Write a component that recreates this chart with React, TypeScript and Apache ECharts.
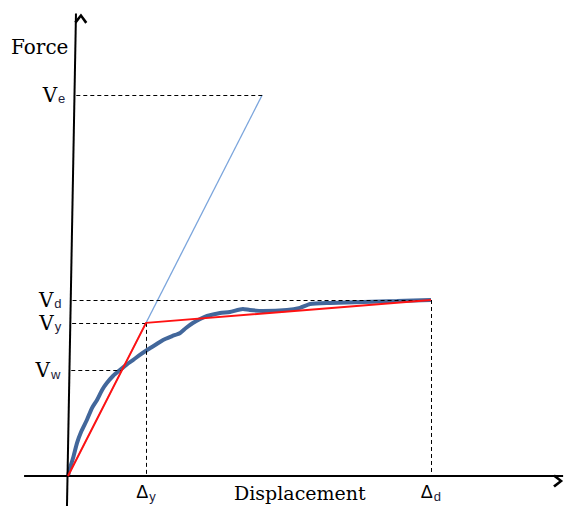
import React, { useEffect, useRef } from "react";
import * as echarts from "echarts";

// Axis-range (data units): displacement 0..100 = Δd, force 0..100 = Vd
const xRange = [-18.73, 136.92];
const yRange = [-17.05, 270.45];

// Characteristic values
const deltaY = 21.5;
const deltaD = 100;
const Vw = 60;
const Vy = 87;
const Vd = 100;
const Ve = 216.5;
const elasticEndX = 53.5;
const VwCrossX = 14.8;

// Axis geometry (data units)
const xAxisLine = [[-12.1, 0], [136.4, 0]];
const yAxisLine = [[-0.28, -17.05], [2.2, 262.8]];

// Measured force-displacement curve
const curveX = [0, 0.55, 1.4, 2.5, 3.6, 5.2, 6.6, 8.0, 9.4, 10.7, 12.4, 14.3, 16.3, 17.9, 19.8, 21.8, 24, 26.2, 28.7, 30.9, 32.5, 34.4, 36.4, 38.3, 41.9, 44.6, 48.2, 50.1, 53.7, 60.3, 63.9, 66.7, 72.2, 81.3, 90.6, 100];
const curveY = [0, 4.5, 10.2, 18.8, 25, 31.8, 38.6, 43.2, 48.9, 52.8, 56.8, 60.2, 63.6, 65.9, 68.8, 71.6, 74.4, 77.3, 79.5, 81.3, 84.1, 86.9, 89.2, 90.9, 92.6, 93.2, 94.9, 94.3, 93.8, 94.3, 95.5, 97.7, 98.3, 98.9, 99.4, 100];

const SERIF = "DejaVu Serif";
const SANS = "Liberation Sans";

function axisXAt(y: number) {
  const [[x0, y0], [x1, y1]] = yAxisLine;
  return x0 + ((y - y0) / (y1 - y0)) * (x1 - x0) + 0.5;
}

const chevron = "path://M0,8 L5,0 L10,8 L8.4,9.7 L5,3.9 L1.6,9.7 Z";

const vRich = {
  v: { fontFamily: SERIF, fontSize: 20, color: "#000" },
  s: { fontFamily: SANS, fontSize: 13, color: "#1c1c3a", padding: [8, 0, 0, 1] },
};
const dRich = {
  v: { fontFamily: SANS, fontSize: 18, color: "#000" },
  s: { fontFamily: SANS, fontSize: 13, color: "#1c1c3a", padding: [8, 0, 0, 1] },
};

export default function App() {
  const ref = useRef<HTMLDivElement>(null);
  useEffect(() => {
    if (!ref.current) return;
    const chart = echarts.init(ref.current, undefined, { renderer: "svg" });
    const dash = { color: "#000", width: 1, type: [4, 3] as any };
    const hLine = (y: number, x2: number, sub: string) => [
      {
        coord: [axisXAt(y), y],
        lineStyle: dash,
        label: { show: true, position: "start", distance: 11, formatter: `{v|V}{s|${sub}}`, rich: vRich },
      },
      { coord: [x2, y] },
    ];
    const vLine = (x: number, y: number, sub: string) => [
      {
        coord: [x, y],
        lineStyle: dash,
        label: { show: true, position: "end", distance: 6, formatter: `{v|Δ}{s|${sub}}`, rich: dRich },
      },
      { coord: [x, 0] },
    ];
    chart.setOption({
      animation: false,
      grid: { left: 0, right: 0, top: 0, bottom: 0 },
      xAxis: { type: "value", min: xRange[0], max: xRange[1], show: false },
      yAxis: { type: "value", min: yRange[0], max: yRange[1], show: false },
      graphic: [
        { type: "text", left: 11, top: 37, style: { text: "Force", font: `20px '${SERIF}'`, fill: "#000" } },
        { type: "text", left: 234, top: 483, style: { text: "Displacement", font: `19px '${SERIF}'`, fill: "#000" } },
      ],
      series: [
        {
          type: "line",
          name: "axes",
          data: [],
          silent: true,
          markLine: {
            silent: true,
            animation: false,
            symbol: ["none", chevron],
            symbolSize: [13, 10],
            symbolOffset: [0, 5],
            lineStyle: { color: "#000", width: 2, type: "solid" },
            label: { show: false },
            data: [
              [{ coord: xAxisLine[0] }, { coord: xAxisLine[1] }],
              [{ coord: yAxisLine[0] }, { coord: yAxisLine[1] }],
            ],
          },
        },
        {
          type: "line",
          name: "guides",
          data: [],
          silent: true,
          markLine: {
            silent: true,
            animation: false,
            symbol: ["none", "none"],
            lineStyle: dash,
            data: [
              hLine(Ve, elasticEndX, "e"),
              hLine(Vd, deltaD, "d"),
              hLine(Vy, deltaY, "y"),
              hLine(Vw, VwCrossX, "w"),
              vLine(deltaY, Vy, "y"),
              vLine(deltaD, Vd, "d"),
            ],
          },
        },
        {
          type: "line",
          name: "elastic",
          data: [[0, 0], [elasticEndX, Ve]],
          showSymbol: false,
          lineStyle: { color: "#7ba5dc", width: 1.3 },
          z: 3,
        },
        {
          type: "line",
          name: "curve",
          data: curveX.map((x, i) => [x, curveY[i]]),
          showSymbol: false,
          smooth: 0.2,
          lineStyle: { color: "#42679b", width: 4 },
          z: 4,
        },
        {
          type: "line",
          name: "bilinear",
          data: [[0, 0], [deltaY, Vy], [deltaD, Vd]],
          showSymbol: false,
          lineStyle: { color: "#ff1212", width: 2 },
          z: 5,
        },
      ],
    });
    return () => chart.dispose();
  }, []);
  return <div ref={ref} style={{ position: "absolute", left: 0, top: 0, width: 565, height: 506 }} />;
}
